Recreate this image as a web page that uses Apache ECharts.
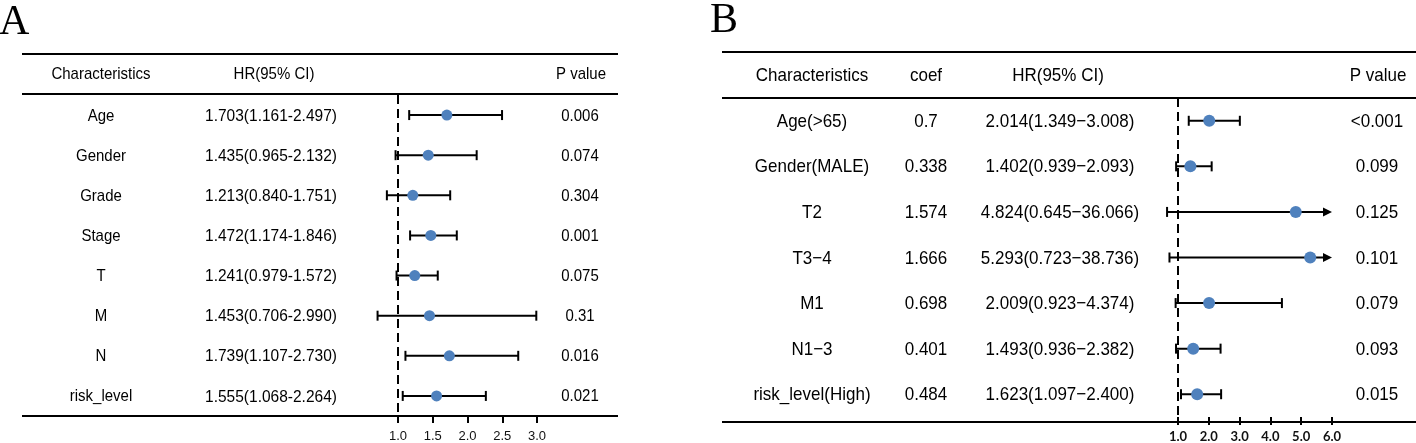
<!DOCTYPE html>
<html>
<head>
<meta charset="utf-8">
<script src="https://cdn.jsdelivr.net/npm/echarts@6/dist/echarts.min.js"></script>
<style>html,body{margin:0;padding:0;background:#fff;}#c{width:1416px;height:443px;}</style>
</head>
<body>
<div id="c"></div>
<script>
// ---- Panel A data ----
const aChars = ['Age', 'Gender', 'Grade', 'Stage', 'T', 'M', 'N', 'risk_level'];
const aHR = [1.703, 1.435, 1.213, 1.472, 1.241, 1.453, 1.739, 1.555];
const aLow = [1.161, 0.965, 0.840, 1.174, 0.979, 0.706, 1.107, 1.068];
const aHigh = [2.497, 2.132, 1.751, 1.846, 1.572, 2.990, 2.730, 2.264];
const aP = ['0.006', '0.074', '0.304', '0.001', '0.075', '0.31', '0.016', '0.021'];
const aTicks = [1.0, 1.5, 2.0, 2.5, 3.0];

// ---- Panel B data ----
const bChars = ['Age(>65)', 'Gender(MALE)', 'T2', 'T3\u22124', 'M1', 'N1\u22123', 'risk_level(High)'];
const bCoef = ['0.7', '0.338', '1.574', '1.666', '0.698', '0.401', '0.484'];
const bHR = [2.014, 1.402, 4.824, 5.293, 2.009, 1.493, 1.623];
const bLow = [1.349, 0.939, 0.645, 0.723, 0.923, 0.936, 1.097];
const bHigh = [3.008, 2.093, 36.066, 38.736, 4.374, 2.382, 2.400];
const bP = ['<0.001', '0.099', '0.125', '0.101', '0.079', '0.093', '0.015'];
const bTicks = [1.0, 2.0, 3.0, 4.0, 5.0, 6.0];

const FONT = 'Liberation Sans, Arial, sans-serif';
const BLUE = '#4f81bd';

const aHRText = aHR.map((v, i) => v.toFixed(3) + '(' + aLow[i].toFixed(3) + '-' + aHigh[i].toFixed(3) + ')');
const bHRText = bHR.map((v, i) => v.toFixed(3) + '(' + bLow[i].toFixed(3) + '\u2212' + bHigh[i].toFixed(3) + ')');

function textSeries(g, strings, xPix, fontSize) {
  return {
    type: 'custom', xAxisIndex: g, yAxisIndex: g, clip: false, silent: true, z: 5,
    data: strings.map((s, i) => [1, i]),
    renderItem: function (params, api) {
      const p = api.coord([api.value(0), api.value(1)]);
      return {
        type: 'text', x: xPix, y: p[1] + 1, scaleY: 1.08,
        style: { text: strings[params.dataIndex], fontSize: fontSize, fontFamily: FONT, fill: '#000', align: 'center', verticalAlign: 'middle' }
      };
    }
  };
}

function ciSeries(g, lows, highs, xmax, cap) {
  return {
    type: 'custom', xAxisIndex: g, yAxisIndex: g, clip: false, silent: true, z: 3,
    data: lows.map((l, i) => [l, highs[i], i]),
    renderItem: function (params, api) {
      const lo = api.value(0), hi = api.value(1), r = api.value(2);
      const clipped = hi > xmax;
      const a = api.coord([lo, r]);
      const b = api.coord([clipped ? xmax : hi, r]);
      const st = { stroke: '#000', lineWidth: 2 };
      const children = [
        { type: 'line', shape: { x1: a[0], y1: a[1], x2: clipped ? b[0] - 6 : b[0], y2: b[1] }, style: st },
        { type: 'line', shape: { x1: a[0], y1: a[1] - cap, x2: a[0], y2: a[1] + cap }, style: st }
      ];
      if (clipped) {
        children.push({ type: 'polygon', shape: { points: [[b[0], b[1]], [b[0] - 9, b[1] - 4.5], [b[0] - 9, b[1] + 4.5]] }, style: { fill: '#000' } });
      } else {
        children.push({ type: 'line', shape: { x1: b[0], y1: b[1] - cap, x2: b[0], y2: b[1] + cap }, style: st });
      }
      return { type: 'group', children: children };
    }
  };
}

function pointSeries(g, hrs, size) {
  return {
    type: 'scatter', xAxisIndex: g, yAxisIndex: g, z: 4, silent: true,
    symbol: 'circle', symbolSize: size,
    itemStyle: { color: BLUE, opacity: 1 },
    data: hrs.map((v, i) => [v, i]),
    markLine: {
      silent: true, symbol: 'none', animation: false,
      label: { show: false },
      lineStyle: { color: '#000', width: 2, type: [9, 5] },
      data: [{ xAxis: 1 }]
    }
  };
}

function hline(x1, x2, y) {
  return { type: 'line', silent: true, shape: { x1: x1, y1: y, x2: x2, y2: y }, style: { stroke: '#000', lineWidth: 2 } };
}
function htext(t, x, y, size) {
  return { type: 'text', silent: true, x: x, y: y, scaleY: 1.08, style: { text: t, fontSize: size, fontFamily: FONT, fill: '#000', align: 'center', verticalAlign: 'middle' } };
}

const aPx = 69.5, bPx = 30.8;
const option = {
  animation: false,
  backgroundColor: '#fff',
  grid: [
    { left: 398 - 0.5 * aPx, width: 3.5 * aPx, top: 95, height: 321 },
    { left: 1178 - 0.5 * bPx, width: 6 * bPx, top: 98, height: 324 }
  ],
  xAxis: [
    {
      gridIndex: 0, type: 'value', min: 0.5, max: 4.0,
      axisLine: { show: false }, splitLine: { show: false },
      axisTick: { show: true, customValues: aTicks, length: 7, lineStyle: { color: '#000', width: 2 } },
      axisLabel: { customValues: aTicks, formatter: v => Number(v).toFixed(1), color: '#111', fontSize: 13, fontFamily: FONT, margin: 14 }
    },
    {
      gridIndex: 1, type: 'value', min: 0.5, max: 6.5,
      axisLine: { show: false }, splitLine: { show: false },
      axisTick: { show: true, customValues: bTicks, length: 8, lineStyle: { color: '#000', width: 2 } },
      axisLabel: { customValues: bTicks, formatter: v => Number(v).toFixed(1), color: '#111', fontSize: 13, fontWeight: 'bold', fontFamily: 'Lato, sans-serif', margin: 13 }
    }
  ],
  yAxis: [
    { gridIndex: 0, type: 'category', inverse: true, data: aChars.map((c, i) => i), show: false },
    { gridIndex: 1, type: 'category', inverse: true, data: bChars.map((c, i) => i), show: false }
  ],
  series: [
    pointSeries(0, aHR, 11),
    ciSeries(0, aLow, aHigh, 4.0, 5),
    textSeries(0, aChars, 101, 15),
    textSeries(0, aHRText, 271, 15.5),
    textSeries(0, aP, 580, 15),
    pointSeries(1, bHR, 12),
    ciSeries(1, bLow, bHigh, 6.0, 5),
    textSeries(1, bChars, 812, 17),
    textSeries(1, bCoef, 926, 17),
    textSeries(1, bHRText, 1060, 17),
    textSeries(1, bP, 1377, 17)
  ],
  graphic: [
    { type: 'text', silent: true, x: -1, y: 2, style: { text: 'A', fontSize: 42, fontFamily: 'Liberation Serif, Times New Roman, serif', fill: '#000' } },
    { type: 'text', silent: true, x: 710, y: 0, style: { text: 'B', fontSize: 42, fontFamily: 'Liberation Serif, Times New Roman, serif', fill: '#000' } },
    hline(22, 618, 54), hline(22, 618, 94), hline(22, 618, 416),
    htext('Characteristics', 101, 75, 15), htext('HR(95% CI)', 274, 75, 15), htext('P value', 581, 75, 15),
    hline(722, 1416, 52), hline(722, 1416, 98), hline(722, 1416, 422),
    htext('Characteristics', 812, 76, 17), htext('coef', 926, 76, 17), htext('HR(95% CI)', 1058, 76, 17), htext('P value', 1378, 76, 17)
  ]
};
const chart = echarts.init(document.getElementById('c'));
chart.setOption(option);
</script>
</body>
</html>
